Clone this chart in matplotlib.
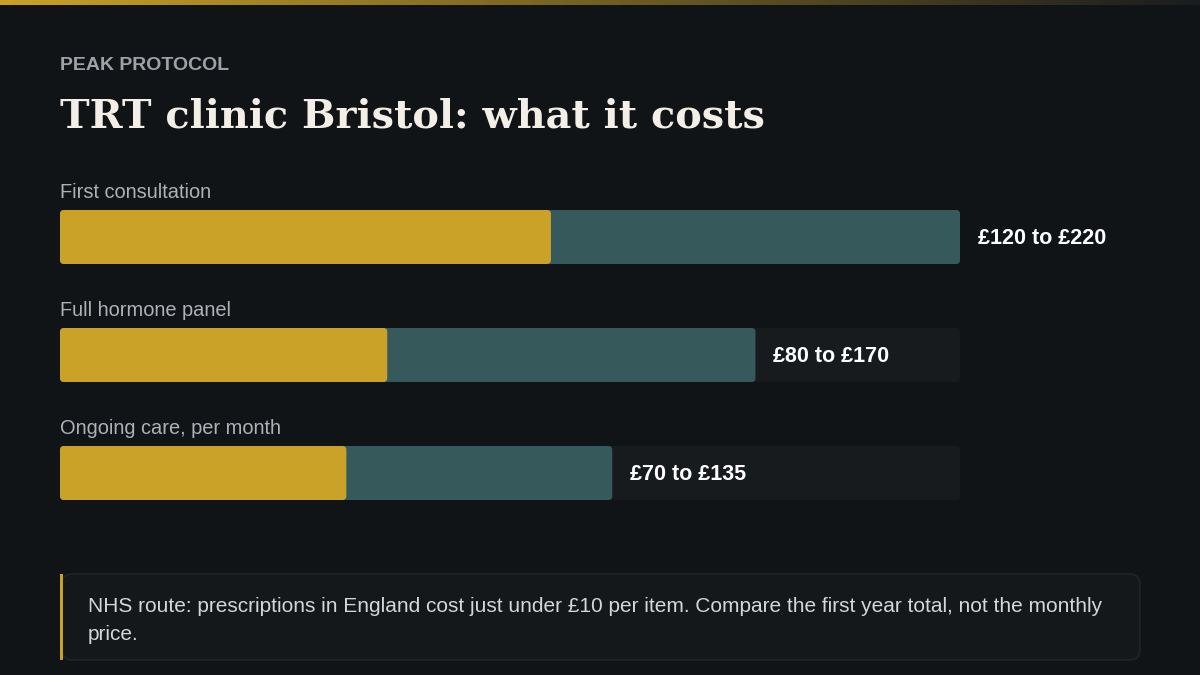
import matplotlib
matplotlib.use('Agg')
import matplotlib.pyplot as plt
from matplotlib.patches import FancyBboxPatch, Rectangle
from matplotlib.colors import LinearSegmentedColormap
import numpy as np

# data
items = ["First consultation", "Full hormone panel", "Ongoing care, per month"]
low = [120, 80, 70]
high = [220, 170, 135]
labels = ["£120 to £220", "£80 to £170", "£70 to £135"]
track_max = 220

BG = '#111417'
GOLD = '#c9a227'
TEAL = '#365a5c'
TRACK = '#181b1e'

fig = plt.figure(figsize=(12, 6.75), dpi=100, facecolor=BG)
plt.rcParams['font.family'] = ['Liberation Sans', 'DejaVu Sans']

# pixel-space overlay for text and decoration
bg = fig.add_axes([0, 0, 1, 1])
bg.set_xlim(0, 1200)
bg.set_ylim(675, 0)
bg.axis('off')
bg.set_facecolor(BG)

# top gradient stripe
grad = np.linspace(0, 1, 256).reshape(1, -1)
cm = LinearSegmentedColormap.from_list('g', [GOLD, '#1a1c1e'])
bg.imshow(grad, cmap=cm, extent=[0, 1200, 5, 0], aspect='auto', zorder=1)

bg.text(60, 66, "PEAK PROTOCOL", color='#9ea2a7', fontsize=14, fontweight='bold', va='center')
bg.text(60, 117, "TRT clinic Bristol: what it costs", color='#f3efe6', fontsize=28.6,
        fontweight='bold', family=['DejaVu Serif'], va='center')

# note box
bg.add_patch(FancyBboxPatch((62, 574), 1078, 86, boxstyle='round,pad=0,rounding_size=10',
                            facecolor='#15181b', edgecolor='#22262a', lw=1, zorder=2))
bg.add_patch(Rectangle((60, 574), 3, 86, facecolor=GOLD, edgecolor='none', zorder=3))
bg.text(88, 606, "NHS route: prescriptions in England cost just under £10 per item. Compare the first year total, not the monthly",
        color='#d4d6d9', fontsize=15, va='center', zorder=4)
bg.text(88, 635, "price.", color='#d4d6d9', fontsize=15, va='center', zorder=4)

# bar axes: x 60..960 px, rows 178..532 px
ax = fig.add_axes([60 / 1200, 1 - 532 / 675, 900 / 1200, 354 / 675])
ax.set_xlim(0, track_max)
ax.set_ylim(2.5, -0.5)
ax.axis('off')
ax.patch.set_alpha(0)

h = 54 / 118
asp = (1 / 118) / (track_max / 900)
r = 4 * track_max / 900
for i, (lo, hi, lab, name) in enumerate(zip(low, high, labels, items)):
    y0 = i - h / 2
    for w, c in [(track_max, TRACK), (hi, TEAL), (lo, GOLD)]:
        ax.add_patch(FancyBboxPatch((0, y0), w, h, boxstyle=f'round,pad=0,rounding_size={r}',
                                    mutation_aspect=asp, facecolor=c, edgecolor='none'))
    ax.text(hi + 18 * track_max / 900, i + 2 / 118, lab, color='white', fontsize=15.5,
            fontweight='bold', va='center', ha='left')
    ax.text(0, i - 0.5 + (14 / 118), name, color='#aeb2b6', fontsize=14.4, va='center', ha='left')

fig.savefig('out.png', dpi=100, facecolor=BG)
